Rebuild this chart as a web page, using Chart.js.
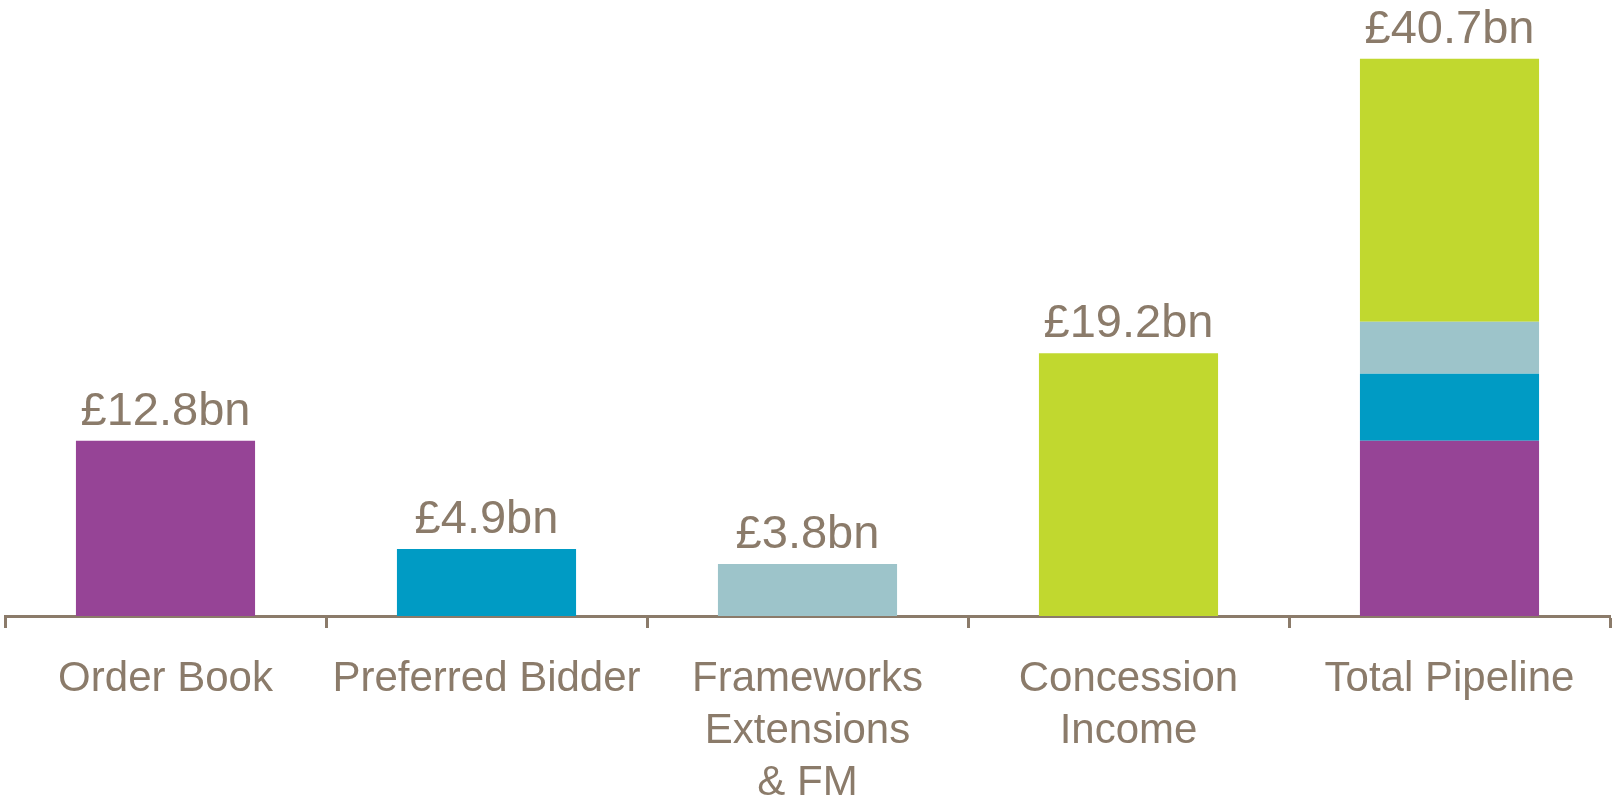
<!DOCTYPE html>
<html>
<head>
<meta charset="utf-8">
<title>Pipeline</title>
<script src="https://cdn.jsdelivr.net/npm/chart.js@4/dist/chart.umd.min.js"></script>
<style>
    html, body { margin: 0; padding: 0; background: #fff; overflow: hidden; }
    /* taller than the window so the last label line runs off the bottom */
    #wrap { width: 1613px; height: 835px; }
</style>
</head>
<body>
<div id="wrap"><canvas id="pipelineChart"></canvas></div>
<script>
// Categories along the bottom
const categories = [
    'Order Book',
    'Preferred Bidder',
    ['Frameworks', 'Extensions', '& FM'],
    ['Concession', 'Income'],
    'Total Pipeline'
];

// Segment values (£bn) - the last column stacks all four
const orderBook      = [12.8, null, null, null, 12.8];
const preferredBid   = [null, 4.9, null, null, 4.9];
const frameworks     = [null, null, 3.8, null, 3.8];
const concession     = [null, null, null, 19.2, 19.2];

// Totals printed above each column
const totalLabels = ['£12.8bn', '£4.9bn', '£3.8bn', '£19.2bn', '£40.7bn'];

const textColor = '#8b7b6a';
const fontFamily = '"Liberation Sans", Arial, sans-serif';

// Draws the total label on top of each column
const totalsPlugin = {
    id: 'totals',
    afterDatasetsDraw(chart) {
        const ctx = chart.ctx;
        const xScale = chart.scales.x;
        const yScale = chart.scales.y;
        ctx.save();
        ctx.font = '47px ' + fontFamily;
        ctx.fillStyle = textColor;
        ctx.textAlign = 'center';
        ctx.textBaseline = 'alphabetic';
        categories.forEach((c, i) => {
            let sum = 0;
            chart.data.datasets.forEach(ds => { sum += ds.data[i] || 0; });
            const x = xScale.getPixelForValue(i);
            const y = yScale.getPixelForValue(sum);
            ctx.fillText(totalLabels[i], x, y - 16);
        });
        ctx.restore();
    }
};

const ctx = document.getElementById('pipelineChart');
new Chart(ctx, {
    type: 'bar',
    data: {
        labels: categories,
        datasets: [
            { label: 'Order Book', data: orderBook, backgroundColor: '#964496' },
            { label: 'Preferred Bidder', data: preferredBid, backgroundColor: '#009bc4' },
            { label: 'Frameworks Extensions & FM', data: frameworks, backgroundColor: '#9dc4ca' },
            { label: 'Concession Income', data: concession, backgroundColor: '#c1d82f' }
        ]
    },
    options: {
        responsive: true,
        maintainAspectRatio: false,
        animation: false,
        layout: {
            padding: { left: 5, right: 3, top: 0, bottom: 0 }
        },
        datasets: {
            bar: {
                categoryPercentage: 1,
                barPercentage: 0.558,
                borderWidth: 0,
                skipNull: false
            }
        },
        plugins: {
            legend: { display: false },
            tooltip: { enabled: false }
        },
        scales: {
            x: {
                stacked: true,
                grid: {
                    display: true,
                    offset: true,
                    drawOnChartArea: false,
                    drawTicks: true,
                    tickLength: 12,
                    tickWidth: 3,
                    tickColor: textColor
                },
                border: { display: true, color: textColor, width: 3 },
                ticks: {
                    color: textColor,
                    padding: 26,
                    font: { family: fontFamily, size: 42, lineHeight: 1.23 },
                    maxRotation: 0,
                    autoSkip: false
                }
            },
            y: {
                stacked: true,
                display: false,
                min: 0,
                max: 45
            }
        }
    },
    plugins: [totalsPlugin]
});
</script>
</body>
</html>
